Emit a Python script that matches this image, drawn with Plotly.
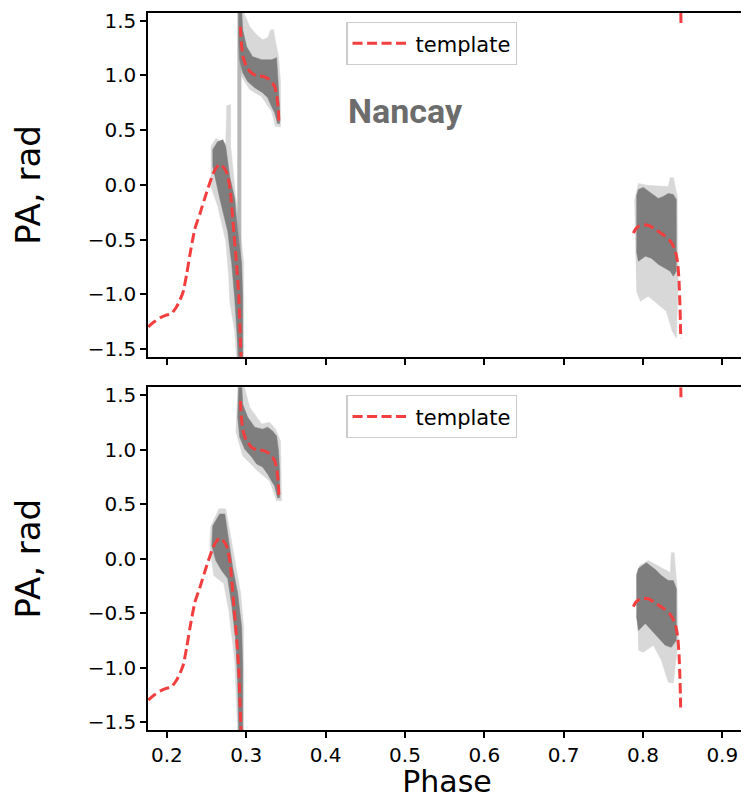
import plotly.graph_objects as go

# ---------------- data (phase, PA in rad) ----------------
tmpl_phase = [0.1765, 0.1840, 0.1912, 0.1990, 0.2059, 0.2122, 0.2165, 0.2205, 0.2250, 0.2289,
              0.2352, 0.2415, 0.2499, 0.2580, 0.2630, 0.2670, 0.2710, 0.2760, 0.2800, 0.2835,
              0.2875, 0.2905, 0.2920, 0.2930, 0.2935,
              None,
              0.2926, 0.2938, 0.2959, 0.3001, 0.3064, 0.3127, 0.3210, 0.3294, 0.3357, 0.3386,
              0.3404, 0.3411,
              None,
              0.7879, 0.7910, 0.7942, 0.7990, 0.8047, 0.8100, 0.8152, 0.8215, 0.8278, 0.8330,
              0.8370, 0.8410, 0.8437, 0.8455, 0.8466, 0.8472, 0.8476,
              None,
              0.8477, 0.8479]
tmpl_pa = [-1.296, -1.25, -1.214, -1.19, -1.174, -1.113, -1.05, -0.976, -0.81, -0.639,
           -0.401, -0.265, -0.07, 0.10, 0.165, 0.188, 0.165, 0.10, -0.06, -0.36,
           -0.70, -1.01, -1.30, -1.50, -1.57,
           None,
           1.445, 1.297, 1.174, 1.083, 1.023, 0.998, 0.992, 0.962, 0.901, 0.810,
           0.688, 0.582,
           None,
           -0.44, -0.40, -0.38, -0.365, -0.366, -0.38, -0.405, -0.435, -0.467, -0.50,
           -0.54, -0.61, -0.71, -0.88, -1.10, -1.25, -1.405,
           None,
           1.571, 1.465]

# Nancay (top panel) observation envelopes
n_peak_light_phase = [0.2553, 0.2616, 0.2741, 0.2754, 0.2804, 0.2804, 0.2867, 0.2917, 0.2967, 0.2967,
                      0.2879, 0.2854, 0.2791, 0.2779, 0.2741, 0.2641, 0.2553]
n_peak_light_pa = [0.351, 0.424, 0.378, 0.725, 0.734, 0.351, -0.105, -0.378, -0.698, -1.6,
                   -1.6, -1.336, -1.062, -0.835, -0.515, -0.196, -0.014]
n_peak_dark_phase = [0.2641, 0.2578, 0.2578, 0.2616, 0.2666, 0.2766, 0.2817, 0.2854, 0.2879, 0.2905,
                     0.2955, 0.2955, 0.2955, 0.2942, 0.2892, 0.2854, 0.2791, 0.2766, 0.2741, 0.2704]
n_peak_dark_pa = [0.397, 0.324, 0.169, 0.032, -0.123, -0.424, -0.725, -1.035, -1.336, -1.6,
                  -1.6, -1.336, -1.035, -0.725, -0.424, -0.123, 0.078, 0.214, 0.351, 0.415]
n_wrap_phase = [0.2911, 0.2914]
n_wrap_pa = [-1.6, 1.6]
n_up_light_phase = [0.2905, 0.2955, 0.3043, 0.3131, 0.3206, 0.3269, 0.3307, 0.3344, 0.3369, 0.3407,
                    0.3432, 0.3432, 0.3369, 0.3319, 0.3193, 0.3043, 0.2942, 0.2892]
n_up_light_pa = [1.6, 1.6, 1.445, 1.372, 1.327, 1.345, 1.418, 1.418, 1.308, 1.172,
                 0.944, 0.533, 0.533, 0.670, 0.807, 0.871, 0.989, 1.217]
n_up_dark_phase = [0.2905, 0.2905, 0.2917, 0.2955, 0.3018, 0.3106, 0.3206, 0.3269, 0.3319, 0.3357,
                   0.3382, 0.3394, 0.3420, 0.3420, 0.3407, 0.3394, 0.3382, 0.3319, 0.3256, 0.3193,
                   0.3080, 0.3005, 0.2955, 0.2942]
n_up_dark_pa = [1.6, 1.299, 1.144, 1.026, 0.944, 0.889, 0.843, 0.798, 0.716, 0.661,
                0.597, 0.561, 0.561, 0.688, 0.871, 1.053, 1.163, 1.144, 1.144, 1.144,
                1.172, 1.263, 1.418, 1.6]
n_lat_light_phase = [0.7892, 0.7942, 0.8068, 0.8319, 0.8344, 0.8382, 0.8432, 0.8445, 0.8420, 0.8369,
                     0.8294, 0.8193, 0.8068, 0.7967, 0.7917]
n_lat_light_pa = [-0.150, 0.014, -0.005, -0.014, 0.068, 0.068, -0.105, -0.880, -1.400, -1.336,
                  -1.153, -1.090, -1.017, -1.062, -0.971]
n_lat_dark_phase = [0.7917, 0.7942, 0.8005, 0.8068, 0.8131, 0.8193, 0.8256, 0.8319, 0.8382, 0.8420,
                    0.8420, 0.8382, 0.8344, 0.8281, 0.8193, 0.8106, 0.8030, 0.7942, 0.7917]
n_lat_dark_pa = [-0.105, -0.041, -0.023, -0.059, -0.087, -0.123, -0.105, -0.078, -0.087, -0.132,
                 -0.789, -0.834, -0.789, -0.761, -0.725, -0.670, -0.652, -0.698, -0.606]

# second (bottom panel) observation envelopes
b_peak_light_phase = [0.2653, 0.2741, 0.2791, 0.2867, 0.2930, 0.2967, 0.2967, 0.2892, 0.2854, 0.2779,
                      0.2716, 0.2590, 0.2540, 0.2553]
b_peak_light_pa = [0.457, 0.457, 0.256, -0.082, -0.320, -0.630, -1.6, -1.6, -0.932, -0.475,
                   -0.228, -0.155, 0.119, 0.301]
b_peak_dark_phase = [0.2666, 0.2578, 0.2565, 0.2616, 0.2691, 0.2766, 0.2817, 0.2867, 0.2892, 0.2905,
                     0.2955, 0.2955, 0.2942, 0.2892, 0.2829, 0.2766, 0.2729]
b_peak_dark_pa = [0.411, 0.301, 0.119, -0.018, -0.110, -0.183, -0.429, -0.749, -1.142, -1.6,
                  -1.6, -0.995, -0.630, -0.320, -0.082, 0.256, 0.411]
b_up_light_phase = [0.2892, 0.2967, 0.3043, 0.3193, 0.3294, 0.3369, 0.3432, 0.3445, 0.3382, 0.3294,
                    0.3143, 0.2955, 0.2867]
b_up_light_pa = [1.6, 1.6, 1.388, 1.233, 1.251, 1.187, 1.078, 0.530, 0.530, 0.712,
                 0.804, 0.941, 1.169]
b_up_dark_phase = [0.2905, 0.2892, 0.2917, 0.2980, 0.3068, 0.3131, 0.3206, 0.3269, 0.3319, 0.3357,
                   0.3382, 0.3394, 0.3420, 0.3420, 0.3420, 0.3407, 0.3382, 0.3332, 0.3269, 0.3206,
                   0.3106, 0.3018, 0.2955, 0.2942]
b_up_dark_pa = [1.6, 1.297, 1.114, 1.005, 0.932, 0.868, 0.840, 0.776, 0.712, 0.667,
                0.594, 0.557, 0.557, 0.658, 0.804, 0.986, 1.123, 1.169, 1.205, 1.187,
                1.205, 1.297, 1.416, 1.6]
b_lat_light_phase = [0.7917, 0.7955, 0.8068, 0.8344, 0.8357, 0.8394, 0.8432, 0.8445, 0.8382, 0.8319,
                     0.8231, 0.8131, 0.8005, 0.7942]
b_lat_light_pa = [-0.201, -0.064, -0.018, -0.128, 0.055, 0.055, -0.292, -0.749, -1.142, -1.132,
                  -0.932, -0.795, -0.858, -0.840]
b_lat_dark_phase = [0.7917, 0.7942, 0.8043, 0.8156, 0.8231, 0.8319, 0.8382, 0.8420, 0.8420, 0.8357,
                    0.8281, 0.8193, 0.8106, 0.8030, 0.7942, 0.7917]
b_lat_dark_pa = [-0.155, -0.091, -0.037, -0.100, -0.155, -0.201, -0.201, -0.274, -0.749, -0.813,
                 -0.795, -0.721, -0.658, -0.594, -0.658, -0.521]

x_tickvals = [0.2, 0.3, 0.4, 0.5, 0.6, 0.7, 0.8, 0.9]
x_ticktext = ["0.2", "0.3", "0.4", "0.5", "0.6", "0.7", "0.8", "0.9"]
y_tickvals = [-1.5, -1.0, -0.5, 0.0, 0.5, 1.0, 1.5]
y_ticktext = ["\u22121.5", "\u22121.0", "\u22120.5", "0.0", "0.5", "1.0", "1.5"]

# ---------------- styles ----------------
LIGHT = "rgb(216,216,216)"
DARK = "rgb(126,126,126)"
WRAP = "rgba(165,165,165,0.8)"
RED = "rgb(242,62,62)"
FONT = "DejaVu Sans"
DASH = "10px,4.5px"

fig = go.Figure()


def poly(px, py, color, xa, ya):
    fig.add_trace(go.Scatter(x=px, y=py, mode="lines", fill="toself", fillcolor=color,
                             line=dict(width=0.5, color=color), hoverinfo="skip",
                             showlegend=False, xaxis=xa, yaxis=ya))


# top panel
poly(n_peak_light_phase, n_peak_light_pa, LIGHT, "x", "y")
poly(n_up_light_phase, n_up_light_pa, LIGHT, "x", "y")
poly(n_lat_light_phase, n_lat_light_pa, LIGHT, "x", "y")
fig.add_trace(go.Scatter(x=n_wrap_phase, y=n_wrap_pa, mode="lines",
                         line=dict(color=WRAP, width=4), hoverinfo="skip",
                         showlegend=False, xaxis="x", yaxis="y"))
poly(n_peak_dark_phase, n_peak_dark_pa, DARK, "x", "y")
poly(n_up_dark_phase, n_up_dark_pa, DARK, "x", "y")
poly(n_lat_dark_phase, n_lat_dark_pa, DARK, "x", "y")
fig.add_trace(go.Scatter(x=tmpl_phase, y=tmpl_pa, mode="lines", name="template",
                         line=dict(color=RED, width=3, dash=DASH, shape="spline", smoothing=0.5),
                         connectgaps=False, legend="legend", xaxis="x", yaxis="y"))

# bottom panel
poly(b_peak_light_phase, b_peak_light_pa, LIGHT, "x2", "y2")
poly(b_up_light_phase, b_up_light_pa, LIGHT, "x2", "y2")
poly(b_lat_light_phase, b_lat_light_pa, LIGHT, "x2", "y2")
poly(b_peak_dark_phase, b_peak_dark_pa, DARK, "x2", "y2")
poly(b_up_dark_phase, b_up_dark_pa, DARK, "x2", "y2")
poly(b_lat_dark_phase, b_lat_dark_pa, DARK, "x2", "y2")
fig.add_trace(go.Scatter(x=tmpl_phase, y=tmpl_pa, mode="lines", name="template",
                         line=dict(color=RED, width=3, dash=DASH, shape="spline", smoothing=0.5),
                         connectgaps=False, legend="legend2", xaxis="x2", yaxis="y2"))

XR = [0.17613, 0.92987]
YR = [-1.5708, 1.5708]
axis_common = dict(showgrid=False, zeroline=False, linecolor="black", linewidth=1.5,
                   ticks="outside", ticklen=6, tickwidth=1.5, tickcolor="black",
                   tickfont=dict(family=FONT, size=20, color="black"))

legend_common = dict(xanchor="left", yanchor="top", itemwidth=58,
                     bgcolor="rgba(255,255,255,0.85)", bordercolor="#cccccc", borderwidth=1.2,
                     font=dict(family=FONT, size=21, color="black"))

# the page body has an 8px margin, so the figure is 8px smaller than the window
fig.update_layout(
    width=741, height=791,
    margin=dict(l=140, r=1, t=3, b=69),
    paper_bgcolor="white", plot_bgcolor="white",
    font=dict(family=FONT, color="black"),
    xaxis=dict(domain=[0, 1], anchor="y", range=XR, tickvals=x_tickvals, ticktext=x_ticktext,
               showticklabels=False, mirror=True, **axis_common),
    yaxis=dict(domain=[0.5204, 1], anchor="x", range=YR, tickvals=y_tickvals, ticktext=y_ticktext,
               mirror=True, title=dict(text="PA, rad", font=dict(family=FONT, size=34), standoff=40),
               **axis_common),
    xaxis2=dict(domain=[0, 1], anchor="y2", range=XR, tickvals=x_tickvals, ticktext=x_ticktext,
                matches="x", mirror=True,
                title=dict(text="Phase", font=dict(family=FONT, size=30), standoff=10),
                **axis_common),
    yaxis2=dict(domain=[0, 0.478], anchor="x2", range=YR, tickvals=y_tickvals, ticktext=y_ticktext,
                mirror=True, title=dict(text="PA, rad", font=dict(family=FONT, size=34), standoff=40),
                **axis_common),
    legend=dict(x=0.3317, y=0.9875, **legend_common),
    legend2=dict(x=0.3317, y=0.467, **legend_common),
    annotations=[dict(text="<b>Nancay</b>", x=0.5003, y=0.68, xref="x", yref="y",
                      showarrow=False, xanchor="center", yanchor="middle",
                      font=dict(family="Roboto", size=34, color="rgb(108,108,108)"))],
)

fig.write_html("out.html")
